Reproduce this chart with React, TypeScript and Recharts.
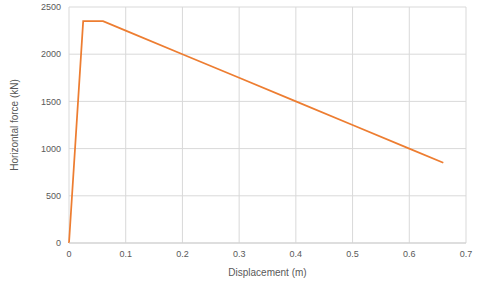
import { CartesianGrid, Line, LineChart, XAxis, YAxis } from "recharts";

const displacement = [0, 0.025, 0.06, 0.1, 0.2, 0.3, 0.4, 0.5, 0.6, 0.66];
const force = [0, 2350, 2350, 2250, 2000, 1750, 1500, 1250, 1000, 850];
const xTicks = [0, 0.1, 0.2, 0.3, 0.4, 0.5, 0.6, 0.7];
const yTicks = [0, 500, 1000, 1500, 2000, 2500];

const data = displacement.map((d, i) => ({ d, f: force[i] }));

const tickStyle = { fontSize: 9, fill: "#595959", fontFamily: "Liberation Sans, Arial, sans-serif" };

export default function App() {
  return (
    <div style={{ position: "absolute", left: 0, top: 0, background: "#fff" }}>
      <LineChart
        width={480}
        height={283}
        data={data}
        margin={{ top: 7, right: 14, left: 0, bottom: 0 }}
      >
        <CartesianGrid stroke="#d9d9d9" strokeWidth={1} />
        <XAxis
          dataKey="d"
          type="number"
          domain={[0, 0.7]}
          ticks={xTicks}
          tick={tickStyle}
          tickLine={false}
          axisLine={{ stroke: "#d0d0d0" }}
          height={40}
          label={{
            value: "Displacement (m)",
            position: "insideBottom",
            offset: 7,
            style: { fontSize: 10, fill: "#595959", fontFamily: "Liberation Sans, Arial, sans-serif" },
          }}
        />
        <YAxis
          type="number"
          domain={[0, 2500]}
          ticks={yTicks}
          tick={tickStyle}
          tickLine={false}
          axisLine={false}
          width={69}
          label={{
            value: "Horizontal force (kN)",
            angle: -90,
            position: "center",
            dx: -20,
            style: { fontSize: 10, fill: "#595959", fontFamily: "Liberation Sans, Arial, sans-serif" },
          }}
        />
        <Line
          type="linear"
          dataKey="f"
          stroke="#ED7D31"
          strokeWidth={1.75}
          dot={false}
          isAnimationActive={false}
        />
      </LineChart>
    </div>
  );
}
